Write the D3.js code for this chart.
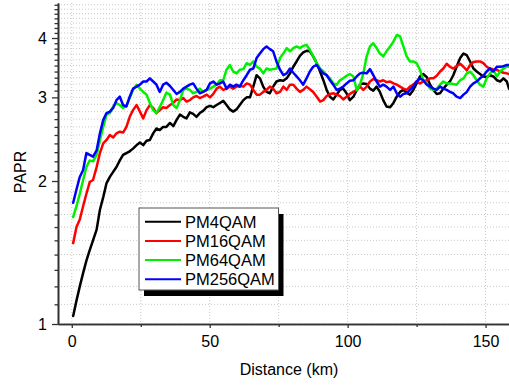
<!DOCTYPE html>
<html>
<head>
<meta charset="utf-8">
<script src="https://cdn.jsdelivr.net/npm/d3@7/dist/d3.min.js"></script>
<style>
  html, body { margin: 0; padding: 0; background: #fff; }
  svg { display: block; }
  text { font-family: Arial, "Liberation Sans", sans-serif; fill: #000; }
</style>
</head>
<body>
<svg id="chart" width="509" height="385"></svg>
<script>
// ---------- data ----------
const distance = [
  0.5,1.7,2.9,4.1,5.3,6.5,7.7,9.0,10.2,11.4,
  12.6,13.8,15.0,16.2,17.4,18.6,19.8,21.0,22.2,23.5,
  24.7,25.9,27.1,28.3,29.5,30.7,31.9,33.1,34.3,35.6,
  36.8,38.0,39.2,40.4,41.6,42.8,44.0,45.2,46.4,47.6,
  48.9,50.1,51.3,52.5,53.7,54.9,56.1,57.3,58.5,59.7,
  60.9,62.2,63.4,64.6,65.8,67.0,68.2,69.4,70.6,71.8,
  73.0,74.2,75.5,76.7,77.9,79.1,80.3,81.5,82.7,83.9,
  85.1,86.3,87.5,88.8,90.0,91.2,92.4,93.6,94.8,96.0,
  97.2,98.4,99.6,100.8,102.1,103.3,104.5,105.7,106.9,108.1,
  109.3,110.5,111.7,112.9,114.1,115.4,116.6,117.8,119.0,120.2,
  121.4,122.6,123.8,125.0,126.2,127.4,128.7,129.9,131.1,132.3,
  133.5,134.7,135.9,137.1,138.3,139.5,140.8,142.0,143.2,144.4,
  145.6,146.8,148.0,149.2,150.4,151.6,152.8,154.1,155.3,156.5,
  157.7,158.5
];

const pm4qam = [
  1.04,1.12,1.20,1.28,1.36,1.43,1.50,1.58,1.74,1.85,
  1.98,2.04,2.09,2.14,2.21,2.27,2.29,2.31,2.34,2.38,
  2.41,2.38,2.43,2.44,2.52,2.58,2.56,2.60,2.60,2.65,
  2.61,2.69,2.76,2.73,2.71,2.79,2.77,2.73,2.78,2.81,
  2.86,2.88,2.86,2.89,2.92,2.95,2.89,2.83,2.80,2.83,
  2.89,2.96,3.00,3.00,3.16,3.34,3.29,3.16,3.08,3.06,
  3.16,3.24,3.26,3.25,3.29,3.37,3.48,3.57,3.67,3.73,
  3.76,3.75,3.66,3.54,3.40,3.26,3.11,3.01,2.97,3.04,
  3.11,3.13,3.06,2.96,3.01,3.11,3.19,3.21,3.20,3.13,
  3.10,3.16,3.08,2.96,2.87,2.86,2.92,3.01,3.08,3.11,
  3.07,3.04,3.11,3.21,3.32,3.36,3.31,3.19,3.11,3.05,
  3.06,3.13,3.19,3.24,3.34,3.48,3.63,3.71,3.68,3.57,
  3.45,3.40,3.36,3.32,3.31,3.34,3.32,3.26,3.24,3.29,
  3.24,3.13
];

const pm16qam = [
  1.48,1.60,1.66,1.77,1.88,1.99,2.01,2.14,2.29,2.40,
  2.44,2.50,2.47,2.52,2.54,2.53,2.60,2.73,2.82,2.89,
  2.80,2.71,2.82,2.89,2.85,2.78,2.82,2.86,2.85,2.89,
  2.92,2.97,2.96,2.99,2.94,2.96,3.00,3.02,2.99,3.01,
  3.04,3.00,3.05,3.13,3.16,3.11,3.13,3.16,3.13,3.16,
  3.17,3.16,3.21,3.19,3.11,3.04,3.04,3.08,3.11,3.16,
  3.13,3.06,3.08,3.16,3.11,3.19,3.19,3.13,3.08,3.11,
  3.16,3.12,3.08,3.01,2.94,2.96,3.02,3.05,3.06,3.04,
  3.02,2.97,3.01,3.05,3.08,3.11,3.16,3.11,3.16,3.24,
  3.28,3.26,3.24,3.26,3.23,3.24,3.21,3.19,3.16,3.13,
  3.11,3.16,3.19,3.24,3.21,3.24,3.26,3.29,3.29,3.33,
  3.40,3.45,3.53,3.48,3.45,3.49,3.53,3.48,3.42,3.51,
  3.56,3.57,3.57,3.54,3.48,3.45,3.44,3.43,3.40,3.38,
  3.37,3.36
];

const pm64qam = [
  1.68,1.77,1.88,2.01,2.14,2.21,2.20,2.27,2.44,2.60,
  2.76,2.78,2.87,2.92,2.89,2.85,2.88,2.99,3.11,3.19,
  3.13,3.08,3.04,2.92,2.82,2.78,2.86,2.96,3.07,3.04,
  2.89,2.85,2.96,3.11,3.13,3.11,3.06,3.08,3.13,3.08,
  3.11,3.13,3.16,3.19,3.26,3.26,3.43,3.51,3.40,3.37,
  3.43,3.44,3.54,3.51,3.57,3.48,3.45,3.37,3.45,3.43,
  3.44,3.45,3.63,3.71,3.81,3.75,3.81,3.84,3.81,3.85,
  3.87,3.78,3.66,3.54,3.45,3.40,3.34,3.29,3.21,3.19,
  3.26,3.29,3.33,3.36,3.32,3.11,3.19,3.37,3.66,3.84,
  3.90,3.81,3.71,3.66,3.75,3.84,3.93,4.06,4.03,3.84,
  3.66,3.57,3.57,3.54,3.43,3.26,3.21,3.13,3.11,3.13,
  3.19,3.24,3.21,3.21,3.20,3.19,3.26,3.29,3.37,3.40,
  3.34,3.26,3.19,3.16,3.29,3.37,3.43,3.32,3.40,3.45,
  3.48,3.48
];

const pm256qam = [
  1.80,1.92,2.04,2.11,2.29,2.27,2.25,2.32,2.52,2.69,
  2.78,2.80,2.85,2.96,3.01,2.89,2.87,3.01,3.13,3.16,
  3.19,3.24,3.24,3.29,3.24,3.19,3.08,3.19,3.22,3.17,
  3.11,3.05,3.08,3.13,3.16,3.19,3.21,3.13,3.06,3.08,
  3.11,3.21,3.24,3.19,3.21,3.24,3.13,3.19,3.16,3.19,
  3.16,3.26,3.34,3.43,3.45,3.63,3.71,3.79,3.84,3.79,
  3.75,3.57,3.43,3.34,3.37,3.45,3.38,3.32,3.26,3.19,
  3.29,3.40,3.48,3.51,3.43,3.37,3.34,3.26,3.19,3.11,
  3.13,3.16,3.21,3.25,3.26,3.32,3.37,3.38,3.37,3.44,
  3.34,3.24,3.16,3.19,3.16,3.11,3.16,3.06,3.01,3.05,
  3.06,3.11,3.16,3.24,3.29,3.26,3.19,3.16,3.13,3.11,
  3.16,3.13,3.11,3.08,3.06,3.01,2.99,3.04,3.08,3.16,
  3.21,3.24,3.29,3.33,3.40,3.45,3.40,3.48,3.48,3.49,
  3.51,3.51
];

const seriesNames = ["PM4QAM", "PM16QAM", "PM64QAM", "PM256QAM"];
const seriesValues = [pm4qam, pm16qam, pm64qam, pm256qam];
const seriesColors = ["#000000", "#ff0000", "#00f000", "#0000ff"];

const xMajorTicks = [0, 50, 100, 150];
const xMinorTicks = [25, 75, 125];
const xGridTicks = [0, 25, 50, 75, 100, 125, 150];
const yMajorTicks = [1, 2, 3, 4];
const yMinorTicks = [1.1,1.2,1.3,1.4,1.5,1.6,1.7,1.8,1.9,
                     2.1,2.2,2.3,2.4,2.5,2.6,2.7,2.8,2.9,
                     3.1,3.2,3.3,3.4,3.5,3.6,3.7,3.8,3.9,
                     4.1,4.2,4.3,4.4,4.5,4.6,4.7];
const xTitle = "Distance (km)";
const yTitle = "PAPR";

// ---------- layout ----------
const svg = d3.select("#chart");
const pLeft = 58, pRight = 509, pTop = 3, pBottom = 324;

const x = d3.scaleLinear().domain([-5, 158.5]).range([pLeft, pRight]);
const y = d3.scaleLog().domain([1, 4.74]).range([pBottom, pTop]);

const axisColor = "#333";

// grid
const grid = svg.append("g").attr("class", "grid");
grid.selectAll("line.h")
  .data(yMajorTicks.concat(yMinorTicks))
  .join("line")
  .attr("class", "h")
  .attr("x1", pLeft).attr("x2", pRight)
  .attr("y1", d => y(d)).attr("y2", d => y(d))
  .attr("stroke", "#c8c8c8").attr("stroke-width", 1)
  .attr("stroke-dasharray", "1,2");
grid.selectAll("line.v")
  .data(xGridTicks)
  .join("line")
  .attr("class", "v")
  .attr("x1", d => x(d)).attr("x2", d => x(d))
  .attr("y1", pTop).attr("y2", pBottom)
  .attr("stroke", "#c8c8c8").attr("stroke-width", 1)
  .attr("stroke-dasharray", "1,2");

// clip for lines
svg.append("clipPath").attr("id", "plotclip")
  .append("rect").attr("x", pLeft).attr("y", pTop)
  .attr("width", pRight - pLeft).attr("height", pBottom - pTop);

// lines
const line = d3.line()
  .x((d, i) => x(distance[i]))
  .y(d => y(d));

svg.append("g").attr("clip-path", "url(#plotclip)")
  .selectAll("path")
  .data(seriesValues)
  .join("path")
  .attr("d", d => line(d))
  .attr("fill", "none")
  .attr("stroke", (d, i) => seriesColors[i])
  .attr("stroke-width", 2.5)
  .attr("stroke-linejoin", "round")
  .attr("stroke-linecap", "round");

// axes
const xAxis = svg.append("g").attr("transform", `translate(0,${pBottom})`)
  .call(d3.axisBottom(x).tickValues(xMajorTicks).tickSize(4).tickPadding(8).tickSizeOuter(0));
const xAxisMinor = svg.append("g").attr("transform", `translate(0,${pBottom})`)
  .call(d3.axisBottom(x).tickValues(xMinorTicks).tickSize(3).tickFormat("").tickSizeOuter(0));
const yAxis = svg.append("g").attr("transform", `translate(${pLeft},0)`)
  .call(d3.axisLeft(y).tickValues(yMajorTicks).tickFormat(d3.format("d")).tickSize(6).tickPadding(5).tickSizeOuter(0));
const yAxisMinor = svg.append("g").attr("transform", `translate(${pLeft},0)`)
  .call(d3.axisLeft(y).tickValues(yMinorTicks).tickFormat("").tickSize(3.5).tickSizeOuter(0));

[xAxis, xAxisMinor, yAxis, yAxisMinor].forEach(g => {
  g.select(".domain").attr("stroke", axisColor).attr("stroke-width", 1.6);
  g.selectAll(".tick line").attr("stroke", axisColor).attr("stroke-width", 1.3);
  g.selectAll(".tick text")
    .attr("font-family", "Arial, 'Liberation Sans', sans-serif")
    .attr("font-size", 16).attr("fill", "#000");
});

// axis titles
svg.append("text")
  .attr("x", 289).attr("y", 375)
  .attr("text-anchor", "middle")
  .attr("font-size", 16)
  .text(xTitle);
svg.append("text")
  .attr("transform", "translate(26,172) rotate(-90)")
  .attr("text-anchor", "middle")
  .attr("font-size", 16)
  .text(yTitle);

// legend
const legend = svg.append("g").attr("transform", "translate(139,208)");
const lw = 139.5, lh = 82;
legend.append("rect")
  .attr("x", 5).attr("y", 6).attr("width", lw).attr("height", lh)
  .attr("fill", "#000");
legend.append("rect")
  .attr("x", 0).attr("y", 0).attr("width", lw).attr("height", lh)
  .attr("fill", "#fff").attr("stroke", "#555").attr("stroke-width", 1);
const items = legend.selectAll("g.item")
  .data(seriesNames)
  .join("g")
  .attr("class", "item")
  .attr("transform", (d, i) => `translate(0,${13.7 + i * 19.2})`);
items.append("line")
  .attr("x1", 6).attr("x2", 42).attr("y1", 0).attr("y2", 0)
  .attr("stroke", (d, i) => seriesColors[i]).attr("stroke-width", 2);
items.append("text")
  .attr("x", 46).attr("y", 0).attr("dy", "0.36em")
  .attr("font-size", 16.5)
  .text(d => d);
</script>
</body>
</html>
